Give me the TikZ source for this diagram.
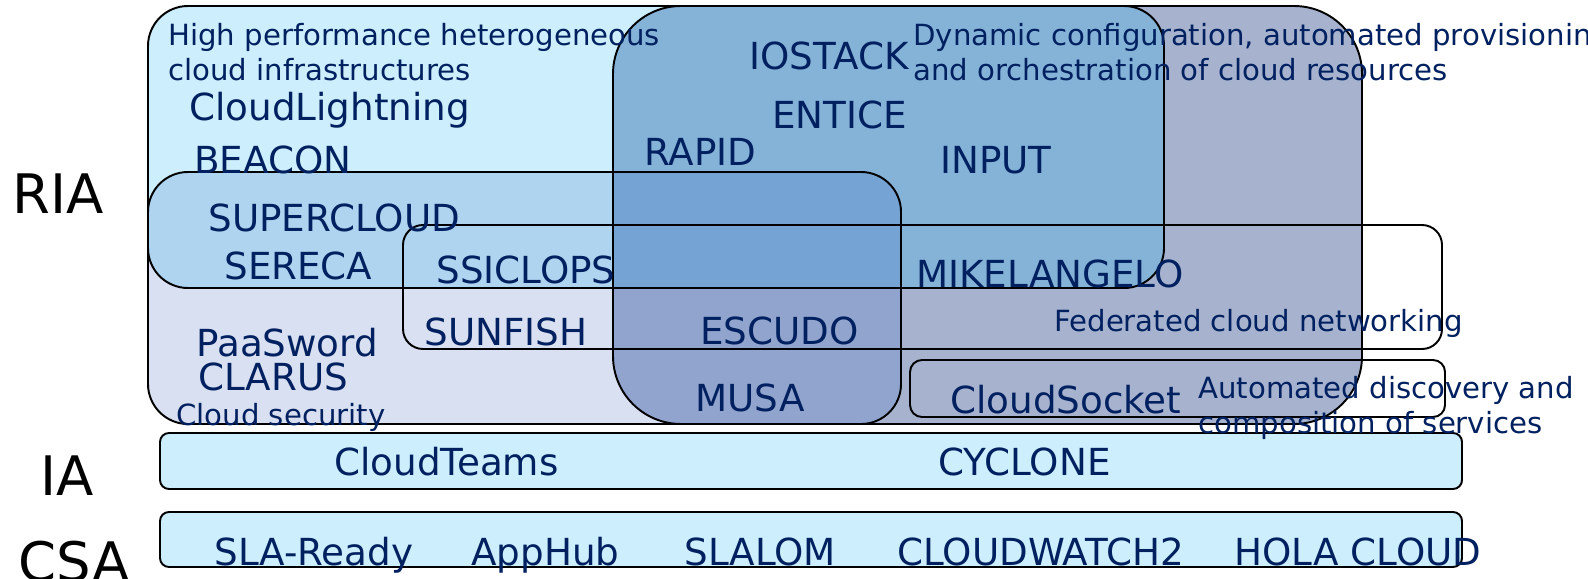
\documentclass[tikz,border=0pt]{standalone}
\usepackage{fontspec}
\setmainfont{DejaVu Sans}
\usepackage{tikz}

\definecolor{navytext}{RGB}{0,32,96}
\definecolor{hpccol}{RGB}{205,238,252}
\definecolor{seccol}{RGB}{217,224,242}
\definecolor{hpcseccol}{RGB}{174,212,240}
\definecolor{dyncol}{RGB}{166,178,206}
\definecolor{dynhpccol}{RGB}{133,179,216}
\definecolor{dynseccol}{RGB}{144,164,206}
\definecolor{dynallcol}{RGB}{117,164,212}

\tikzset{
  hpc_box/.style={rounded corners=0.8cm},
  sec_box/.style={rounded corners=0.8cm},
  dyn_box/.style={rounded corners=1.36cm},
  fed_box/.style={rounded corners=0.4cm, draw=black, line width=1.1pt},
  disc_box/.style={rounded corners=0.24cm, draw=black, line width=1.1pt},
  layer_bar/.style={rounded corners=0.18cm, draw=black, line width=1.1pt, fill=hpccol},
  box_line/.style={draw=black, line width=1.1pt},
  project/.style={anchor=base west, inner sep=0, text=navytext, font=\fontsize{21.2}{24}\selectfont},
  topic/.style={anchor=base west, inner sep=0, text=navytext, align=left, font=\fontsize{16.6}{19.8}\selectfont},
  layer/.style={anchor=base, inner sep=0, text=black, font=\fontsize{31}{36}\selectfont}
}

\begin{document}
\begin{tikzpicture}[x=0.02cm, y=-0.02cm]

\useasboundingbox (0,0) rectangle (1588,578);

%%% fills of the overlapping areas
\fill[hpc_box, hpccol] (148,6) rectangle (1164,288);
\fill[sec_box, seccol] (148,172) rectangle (901,424);
\begin{scope}
\clip[sec_box] (148,172) rectangle (901,424);
\fill[hpc_box, hpcseccol] (148,6) rectangle (1164,288);
\end{scope}

\fill[dyn_box, dyncol] (613,6) rectangle (1362,424);
\begin{scope}
\clip[dyn_box] (613,6) rectangle (1362,424);
\fill[hpc_box, dynhpccol] (148,6) rectangle (1164,288);
\fill[sec_box, dynseccol] (148,172) rectangle (901,424);
\clip[sec_box] (148,172) rectangle (901,424);
\fill[hpc_box, dynallcol] (148,6) rectangle (1164,288);
\end{scope}

%%% outlines
\draw[hpc_box, box_line] (148,6) rectangle (1164,288);
\draw[sec_box, box_line] (148,172) rectangle (901,424);
\draw[dyn_box, box_line] (613,6) rectangle (1362,424);
\draw[fed_box] (403,225) rectangle (1442,349);
\draw[disc_box] (910,360) rectangle (1445,417);

% IA and CSA bars
\draw[layer_bar] (160,433) rectangle (1462,489);
\draw[layer_bar] (160,512) rectangle (1462,567);

%%% layer names
\node[layer] (ria) at (58,213) {RIA};
\node[layer] (ia) at (67,495) {IA};
\node[layer] (csa) at (74,581) {CSA};

%%% topics (base = last line)
\node[topic] (hpc) at (168,80) {High performance heterogeneous\\cloud infrastructures};
\node[topic] (dyn) at (913,80) {Dynamic configuration, automated provisioning\\and orchestration of cloud resources};
\node[topic] (sec) at (176,425) {Cloud security};
\node[topic] (fed) at (1054,331) {Federated cloud networking};
\node[topic] (disc) at (1198,433) {Automated discovery and\\composition of services};

%%% projects
\node[project] (cloudlightning) at (189,120) {CloudLightning};
\node[project] (beacon) at (194,173) {BEACON};
\node[project] (supercloud) at (208,231) {SUPERCLOUD};
\node[project] (sereca) at (224,279) {SERECA};
\node[project] (ssiclops) at (436,283) {SSICLOPS};
\node[project] (sunfish) at (424,345) {SUNFISH};
\node[project] (paasword) at (196,356) {PaaSword};
\node[project] (clarus) at (198,390) {CLARUS};
\node[project] (iostack) at (749,69) {IOSTACK};
\node[project] (entice) at (772,128) {ENTICE};
\node[project] (rapid) at (644,165) {RAPID};
\node[project] (input) at (940,173) {INPUT};
\node[project] (mikelangelo) at (916,287) {MIKELANGELO};
\node[project] (escudo) at (700,344) {ESCUDO};
\node[project] (musa) at (695,411) {MUSA};
\node[project] (cloudsocket) at (950,413) {CloudSocket};

% IA bar
\node[project] (cloudteams) at (334,475) {CloudTeams};
\node[project] (cyclone) at (938,475) {CYCLONE};

% CSA bar
\node[project] (slaready) at (214,565) {SLA-Ready};
\node[project] (apphub) at (471,565) {AppHub};
\node[project] (slalom) at (684,565) {SLALOM};
\node[project] (cloudwatch) at (897,565) {CLOUDWATCH2};
\node[project] (holacloud) at (1234,565) {HOLA CLOUD};

\end{tikzpicture}
\end{document}
